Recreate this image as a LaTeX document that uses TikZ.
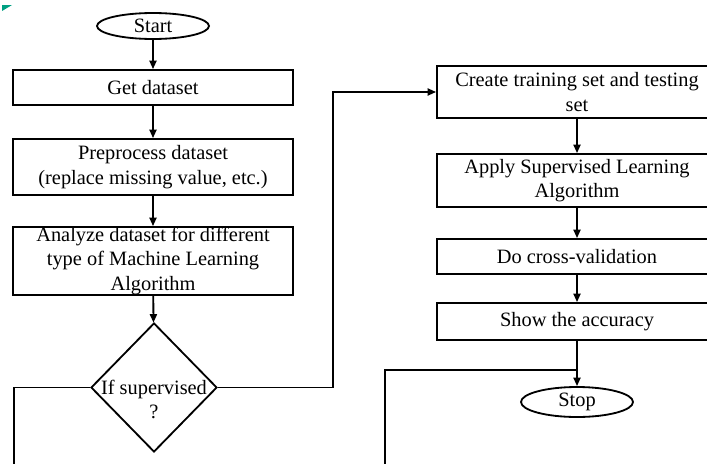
\documentclass[tikz,border=0pt]{standalone}
\usepackage{fontspec}
\setmainfont{Liberation Serif}
\usetikzlibrary{shapes.geometric, arrows.meta}
\definecolor{cornermark}{RGB}{0,160,130}

\begin{document}
\begin{tikzpicture}[->,>={Triangle[length=6pt,width=5pt]},line width=1.3pt,
                    font=\fontsize{14.5}{17.5}\selectfont,
                    term/.style={ellipse,draw,minimum width=2.8cm,minimum height=0.65cm,inner sep=0pt},
                    box/.style={rectangle,draw,minimum width=7cm,align=center,inner sep=0pt},
                    decision/.style={diamond,draw,minimum width=3.15cm,minimum height=3.225cm,inner sep=0pt}]
                    \clip (0,0) rectangle (17.675,-11.575);
                    \fill[cornermark,-] (0.05,-0.125) -- (0.3,-0.125) -- (0.05,-0.275) -- cycle;
                    % left column
                    \node[term] (start) at (3.825,-0.65) {Start};
                    \node[box,minimum height=0.875cm] (get) at (3.825,-2.1875) {Get dataset};
                    \node[box,minimum height=1.4cm] (prep) at (3.825,-4.175) {Preprocess dataset\\(replace missing value, etc.)};
                    \node[box,minimum height=1.7cm] (analyze) at (3.825,-6.525) {Analyze dataset for different\\type of Machine Learning\\Algorithm};
                    \node[decision,label={[align=center,yshift=-0.3cm]center:If supervised\\?}] (sup) at (3.85,-9.6875) {};
                    % right column
                    \node[box,minimum height=1.3cm] (split) at (14.425,-2.3) {Create training set and testing\\set};
                    \node[box,minimum height=1.325cm] (apply) at (14.425,-4.5125) {Apply Supervised Learning\\Algorithm};
                    \node[box,minimum height=0.875cm] (cv) at (14.425,-6.4125) {Do cross-validation};
                    \node[box,minimum height=0.925cm] (acc) at (14.425,-8.0375) {Show the accuracy};
                    \node[term,minimum height=0.75cm] (stop) at (14.425,-10.05) {Stop};
                    \coordinate (yes) at (8.325,-2.3);
                    \coordinate (unsup) at (0.35,-11.6);
                    \coordinate (back) at (9.625,-11.6);
                    \coordinate (join) at (14.425,-9.25);
                    \path
                    (start) edge (get)
                    (get) edge (prep)
                    (prep) edge (analyze)
                    (analyze) edge (sup)
                    (split) edge (apply)
                    (apply) edge (cv)
                    (cv) edge (acc)
                    (acc) edge (stop)
                    ;
                    \draw (sup.east) -| (yes) -- (split.west);
                    \draw[-] (sup.west) -| (unsup);
                    \draw[-] (back) |- (join);
                \end{tikzpicture}
\end{document}
